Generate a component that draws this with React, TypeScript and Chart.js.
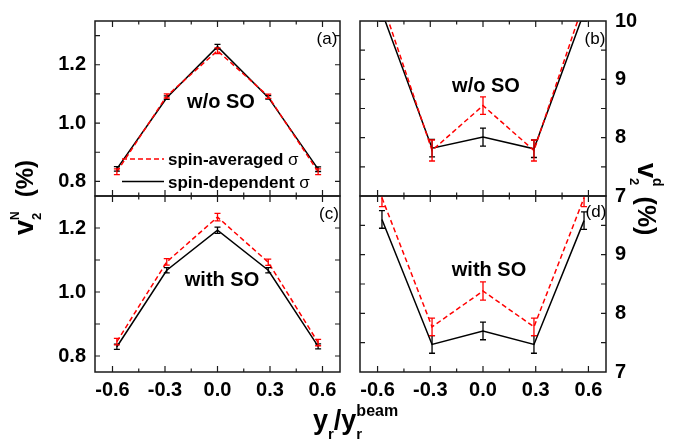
import React, { useEffect, useRef } from "react";
import { Chart, registerables } from "chart.js";

Chart.register(...registerables);

const FONT = "'Liberation Sans', Arial, Helvetica, sans-serif";
const W = 700;
const H = 443;

// ---------- data ----------
const RAPIDITY = [-0.575, -0.29, 0, 0.29, 0.575];
const X_TICKS = [-0.6, -0.3, 0, 0.3, 0.6];
const X_MINOR = [-0.45, -0.15, 0.15, 0.45];

const LABEL_AVG = "spin-averaged ";
const LABEL_DEP = "spin-dependent ";
const SIGMA = "σ";

// (a) v2^N, w/o SO
const A_AVG = [0.833, 1.093, 1.248, 1.092, 0.833];
const A_AVG_ERR = [0.01, 0.007, 0.01, 0.007, 0.01];
const A_DEP = [0.843, 1.087, 1.262, 1.088, 0.842];
const A_DEP_ERR = [0.008, 0.006, 0.008, 0.006, 0.008];
// (c) v2^N, with SO
const C_AVG = [0.845, 1.094, 1.234, 1.093, 0.842];
const C_AVG_ERR = [0.01, 0.01, 0.012, 0.01, 0.01];
const C_DEP = [0.829, 1.068, 1.193, 1.068, 0.83];
const C_DEP_ERR = [0.008, 0.008, 0.01, 0.008, 0.008];
// (b) v2^d, w/o SO
const B_AVG = [10.33, 7.78, 8.55, 7.78, 10.33];
const B_AVG_ERR = [0.15, 0.18, 0.15, 0.18, 0.15];
const B_DEP = [10.15, 7.82, 8.01, 7.81, 10.15];
const B_DEP_ERR = [0.15, 0.15, 0.155, 0.15, 0.15];
// (d) v2^d, with SO
const D_AVG = [9.97, 7.77, 8.38, 7.77, 9.97];
const D_AVG_ERR = [0.15, 0.15, 0.155, 0.15, 0.15];
const D_DEP = [9.6, 7.47, 7.7, 7.47, 9.58];
const D_DEP_ERR = [0.15, 0.15, 0.15, 0.15, 0.15];

const N_LABELS_A = [0.8, 1.0, 1.2];
const N_MARKS_A = [0.8, 0.9, 1.0, 1.1, 1.2, 1.3];
const N_LABELS_C = [0.8, 1.0, 1.2];
const N_MARKS_C = [0.8, 0.9, 1.0, 1.1, 1.2];
const D_LABELS_B = [7, 8, 9, 10];
const D_LABELS_D = [7, 8, 9];
const D_MARKS = [7.5, 8, 8.5, 9, 9.5];

type Area = { l: number; t: number; r: number; b: number };
type Panel = {
  tag: string;
  note: string;
  area: Area;
  yMin: number;
  yMax: number;
  yLabels: number[];
  yMarks: number[];
  side: "left" | "right";
  showX: boolean;
  digits: number;
  avg: number[];
  avgErr: number[];
  dep: number[];
  depErr: number[];
  tagPos: [number, number];
  notePos: [number, number];
};

const PANELS: Panel[] = [
  {
    tag: "(a)", note: "w/o SO", area: { l: 95, t: 20, r: 340, b: 196 },
    yMin: 0.75, yMax: 1.35, yLabels: N_LABELS_A, yMarks: N_MARKS_A, side: "left", showX: false, digits: 1,
    avg: A_AVG, avgErr: A_AVG_ERR, dep: A_DEP, depErr: A_DEP_ERR, tagPos: [327, 44], notePos: [221, 108],
  },
  {
    tag: "(c)", note: "with SO", area: { l: 95, t: 196, r: 340, b: 372 },
    yMin: 0.75, yMax: 1.3, yLabels: N_LABELS_C, yMarks: N_MARKS_C, side: "left", showX: true, digits: 1,
    avg: C_AVG, avgErr: C_AVG_ERR, dep: C_DEP, depErr: C_DEP_ERR, tagPos: [329, 219], notePos: [222, 286],
  },
  {
    tag: "(b)", note: "w/o SO", area: { l: 360, t: 20, r: 606, b: 196 },
    yMin: 7, yMax: 10, yLabels: D_LABELS_B, yMarks: D_MARKS, side: "right", showX: false, digits: 0,
    avg: B_AVG, avgErr: B_AVG_ERR, dep: B_DEP, depErr: B_DEP_ERR, tagPos: [595, 44], notePos: [486, 92],
  },
  {
    tag: "(d)", note: "with SO", area: { l: 360, t: 196, r: 606, b: 372 },
    yMin: 7, yMax: 10, yLabels: D_LABELS_D, yMarks: D_MARKS, side: "right", showX: true, digits: 0,
    avg: D_AVG, avgErr: D_AVG_ERR, dep: D_DEP, depErr: D_DEP_ERR, tagPos: [596, 217], notePos: [489, 276],
  },
];

// ---------- text helpers ----------
type TextSeg = { text: string; size: number; bold?: boolean; dy?: number };
type Seg = TextSeg | { stack: TextSeg[] } | { gap: number };

const fnt = (s: TextSeg) => `${s.bold === false ? "normal" : "bold"} ${s.size}px ${FONT}`;

function drawRun(ctx: CanvasRenderingContext2D, x: number, y: number, angle: number, segs: Seg[]) {
  ctx.save();
  ctx.translate(x, y);
  ctx.rotate(angle);
  ctx.fillStyle = "#000";
  ctx.textBaseline = "alphabetic";
  ctx.textAlign = "left";
  let cx = 0;
  for (const s of segs) {
    if ("gap" in s) {
      cx += s.gap;
      continue;
    }
    if ("stack" in s) {
      let w = 0;
      for (const t of s.stack) {
        ctx.font = fnt(t);
        ctx.fillText(t.text, cx, t.dy || 0);
        w = Math.max(w, ctx.measureText(t.text).width);
      }
      cx += w;
      continue;
    }
    ctx.font = fnt(s);
    ctx.fillText(s.text, cx, s.dy || 0);
    cx += ctx.measureText(s.text).width;
  }
  ctx.restore();
}

function drawCentered(ctx: CanvasRenderingContext2D, text: string, x: number, y: number, size: number, bold: boolean) {
  ctx.save();
  ctx.font = `${bold ? "bold" : "normal"} ${size}px ${FONT}`;
  ctx.fillStyle = "#000";
  ctx.textAlign = "center";
  ctx.textBaseline = "alphabetic";
  ctx.fillText(text, x, y);
  ctx.restore();
}

// ---------- plugins ----------
function decorPlugin(p: Panel) {
  return {
    id: "panelDecor",
    afterDatasetsDraw(chart: any) {
      const { ctx, chartArea: a, scales } = chart;
      const xs = scales.x;
      const ys = scales.y;
      const errs = [p.depErr, p.avgErr];
      ctx.save();
      ctx.beginPath();
      ctx.rect(a.left, a.top, a.right - a.left, a.bottom - a.top);
      ctx.clip();
      chart.data.datasets.forEach((ds: any, i: number) => {
        ctx.strokeStyle = ds.borderColor;
        ctx.lineWidth = 1.3;
        ctx.setLineDash([]);
        ds.data.forEach((pt: any, j: number) => {
          const px = xs.getPixelForValue(pt.x);
          const y1 = ys.getPixelForValue(pt.y - errs[i][j]);
          const y2 = ys.getPixelForValue(pt.y + errs[i][j]);
          ctx.beginPath();
          ctx.moveTo(px, y1);
          ctx.lineTo(px, y2);
          ctx.moveTo(px - 3, y1);
          ctx.lineTo(px + 3, y1);
          ctx.moveTo(px - 3, y2);
          ctx.lineTo(px + 3, y2);
          ctx.stroke();
        });
      });
      ctx.restore();

      ctx.save();
      ctx.strokeStyle = "#1a1a1a";
      ctx.lineWidth = 1.5;
      ctx.setLineDash([]);
      ctx.strokeRect(a.left, a.top, a.right - a.left, a.bottom - a.top);
      ctx.lineWidth = 1.2;
      ctx.beginPath();
      const xm: [number, number][] = [
        ...X_TICKS.map((v) => [v, 6] as [number, number]),
        ...X_MINOR.map((v) => [v, 3.5] as [number, number]),
      ];
      xm.forEach(([v, len]) => {
        const px = xs.getPixelForValue(v);
        ctx.moveTo(px, a.bottom);
        ctx.lineTo(px, a.bottom - len);
        ctx.moveTo(px, a.top);
        ctx.lineTo(px, a.top + len);
      });
      p.yMarks.forEach((v) => {
        const py = ys.getPixelForValue(v);
        ctx.moveTo(a.left, py);
        ctx.lineTo(a.left + 5, py);
        ctx.moveTo(a.right, py);
        ctx.lineTo(a.right - 5, py);
      });
      ctx.stroke();
      ctx.restore();

      // panel tag and note
      drawCentered(ctx, p.tag, p.tagPos[0], p.tagPos[1], 17, false);
      drawCentered(ctx, p.note, p.notePos[0], p.notePos[1], 20, true);
    },
  };
}

const legendPlugin = {
  id: "legendInside",
  afterDraw(chart: any) {
    const ctx: CanvasRenderingContext2D = chart.ctx;
    const dsAvg = chart.data.datasets[1];
    const dsDep = chart.data.datasets[0];
    const rows = [
      { ds: dsAvg, text: LABEL_AVG, y: 159 },
      { ds: dsDep, text: LABEL_DEP, y: 181.5 },
    ];
    rows.forEach((r) => {
      ctx.save();
      ctx.strokeStyle = r.ds.borderColor;
      ctx.lineWidth = 1.5;
      ctx.setLineDash(r.ds.borderDash || []);
      ctx.beginPath();
      ctx.moveTo(122, r.y);
      ctx.lineTo(164, r.y);
      ctx.stroke();
      ctx.restore();
      drawRun(ctx, 168, r.y + 6, 0, [
        { text: r.text, size: 17, bold: true },
        { text: SIGMA, size: 17, bold: false },
      ]);
    });
  },
};

const titlePlugin = {
  id: "titles",
  afterDraw(chart: any) {
    const ctx: CanvasRenderingContext2D = chart.ctx;
    // left y title: v2^N (%)
    drawRun(ctx, 33, 235, -Math.PI / 2, [
      { text: "v", size: 27, bold: true },
      { stack: [{ text: "N", size: 12, bold: true, dy: -14 }, { text: "2", size: 13, bold: true, dy: 8 }] },
      { gap: 14 },
      { text: "(%)", size: 24, bold: true },
    ]);
    // right y title: v2^d (%)
    drawRun(ctx, 638, 163, Math.PI / 2, [
      { text: "v", size: 27, bold: true },
      { stack: [{ text: "d", size: 14, bold: true, dy: -15 }, { text: "2", size: 13, bold: true, dy: 8 }] },
      { gap: 10 },
      { text: "(%)", size: 25, bold: true },
    ]);
    // x title: y_r / y_r^beam
    drawRun(ctx, 313, 429, 0, [
      { text: "y", size: 27, bold: true },
      { text: "r", size: 15, bold: true, dy: 10 },
      { text: "/y", size: 27, bold: true },
      { stack: [{ text: "beam", size: 16, bold: true, dy: -13 }, { text: "r", size: 15, bold: true, dy: 10 }] },
    ]);
  },
};

function buildConfig(p: Panel, extra: any[]): any {
  const yW = 40;
  const xH = p.showX ? 40 : 0;
  const padding = {
    left: p.side === "left" ? p.area.l - yW : p.area.l,
    right: p.side === "right" ? W - p.area.r - yW : W - p.area.r,
    top: p.area.t,
    bottom: H - p.area.b - xH,
  };
  const tickFont = { family: FONT, size: 20, weight: "bold" as const };
  return {
    type: "line",
    data: {
      datasets: [
        {
          label: LABEL_DEP + SIGMA,
          data: RAPIDITY.map((x, i) => ({ x, y: p.dep[i] })),
          borderColor: "#000000",
          borderWidth: 1.5,
          pointRadius: 0,
          tension: 0,
          fill: false,
          order: 2,
        },
        {
          label: LABEL_AVG + SIGMA,
          data: RAPIDITY.map((x, i) => ({ x, y: p.avg[i] })),
          borderColor: "#ff0000",
          borderWidth: 1.5,
          borderDash: [5, 3],
          pointRadius: 0,
          tension: 0,
          fill: false,
          order: 1,
        },
      ],
    },
    options: {
      responsive: false,
      maintainAspectRatio: false,
      animation: false,
      events: [],
      layout: { padding },
      plugins: { legend: { display: false }, tooltip: { enabled: false }, title: { display: false } },
      scales: {
        x: {
          type: "linear",
          position: "bottom",
          min: -0.7,
          max: 0.7,
          grid: { display: false, drawTicks: false },
          border: { display: false },
          ticks: {
            display: p.showX,
            autoSkip: false,
            maxRotation: 0,
            padding: 6,
            color: "#000",
            font: tickFont,
            callback: (v: any) => Number(v).toFixed(1),
          },
          afterBuildTicks: (s: any) => {
            s.ticks = X_TICKS.map((value) => ({ value }));
          },
          afterFit: (s: any) => {
            s.height = xH;
          },
        },
        y: {
          type: "linear",
          position: p.side,
          min: p.yMin,
          max: p.yMax,
          grid: { display: false, drawTicks: false },
          border: { display: false },
          ticks: {
            autoSkip: false,
            padding: 9,
            color: "#000",
            font: tickFont,
            callback: (v: any) => Number(v).toFixed(p.digits),
          },
          afterBuildTicks: (s: any) => {
            s.ticks = p.yLabels.map((value) => ({ value }));
          },
          afterFit: (s: any) => {
            s.width = yW;
          },
        },
      },
    },
    plugins: [decorPlugin(p), ...extra],
  };
}

function PanelChart({ p, extra }: { p: Panel; extra: any[] }) {
  const ref = useRef<HTMLCanvasElement | null>(null);
  useEffect(() => {
    if (!ref.current) return;
    const chart = new Chart(ref.current, buildConfig(p, extra));
    return () => chart.destroy();
  }, []);
  return (
    <canvas
      ref={ref}
      width={W}
      height={H}
      style={{ position: "absolute", left: 0, top: 0, width: W, height: H }}
    />
  );
}

export default function App() {
  return (
    <div
      style={{
        position: "fixed",
        left: 0,
        top: 0,
        width: W,
        height: H,
        background: "#ffffff",
        overflow: "hidden",
      }}
    >
      <PanelChart p={PANELS[0]} extra={[legendPlugin]} />
      <PanelChart p={PANELS[1]} extra={[]} />
      <PanelChart p={PANELS[2]} extra={[]} />
      <PanelChart p={PANELS[3]} extra={[titlePlugin]} />
    </div>
  );
}
